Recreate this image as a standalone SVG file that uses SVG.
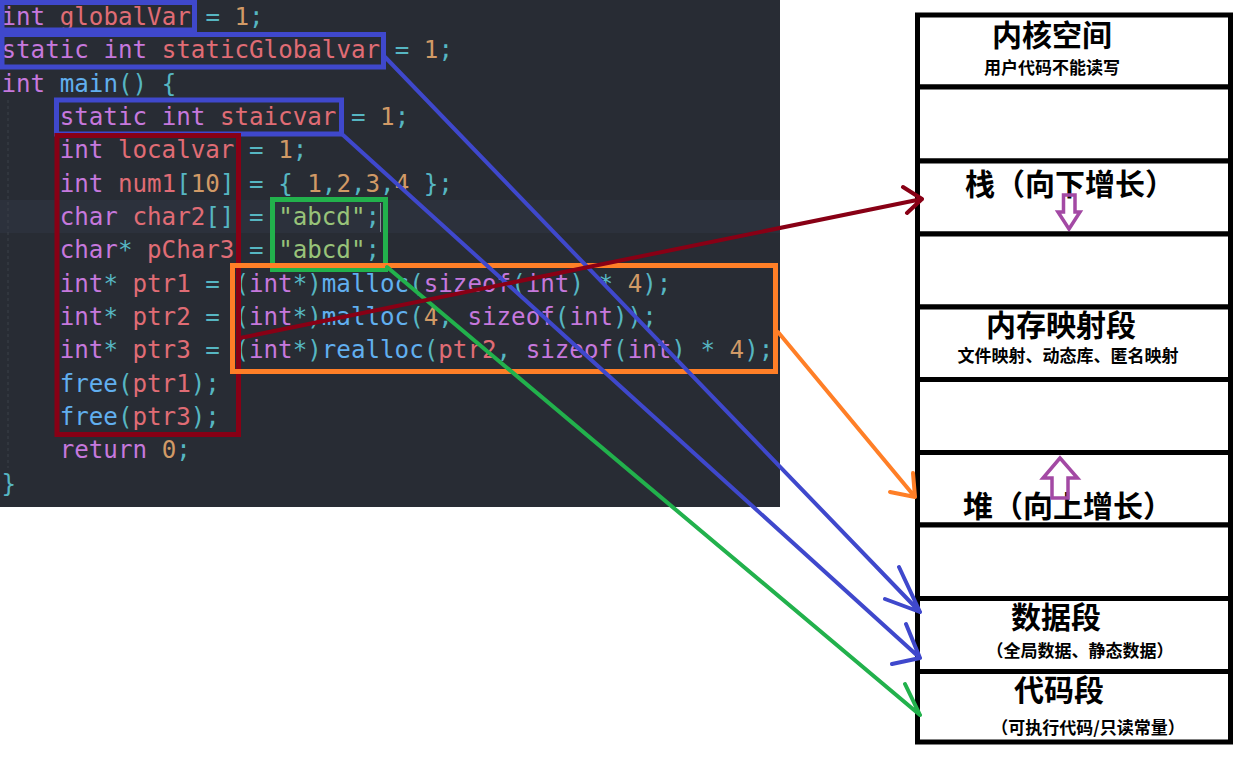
<svg xmlns="http://www.w3.org/2000/svg" width="1258" height="762" viewBox="0 0 1258 762">
<defs>
<style>
.code{font-family:"DejaVu Sans Mono","Liberation Mono",monospace;font-size:24.2px;white-space:pre}
.k{fill:#c678dd}.v{fill:#e06c75}.n{fill:#d19a66}.p{fill:#56b6c2}.f{fill:#61afef}.s{fill:#98c379}
.hl{fill:none;stroke-width:5}
.cell{fill:#fff;stroke:#000;stroke-width:5}
.t{font-family:"Noto Sans CJK SC","Noto Sans CJK TC",sans-serif;font-weight:700;fill:#000;text-anchor:middle}
.big{font-size:30px}.small{font-size:17px}
.grow{fill:none;stroke:#a349a4;stroke-width:3.5}
.con{fill:none;stroke-width:4;stroke-linecap:round;stroke-linejoin:round}
</style>
</defs>
<rect x="0" y="0" width="1258" height="762" fill="#fff"/>

<g id="code-panel">
<rect x="0" y="0" width="780" height="507" fill="#282c34"/>
<rect x="0" y="200" width="780" height="33" fill="#2c313c"/>
<line x1="8" y1="100" x2="8" y2="468" stroke="#3b4048" stroke-width="1" stroke-dasharray="3,3"/>
<line x1="380.5" y1="203" x2="380.5" y2="232" stroke="#8a909c" stroke-width="1"/>
<g class="code">
<text x="1.5" y="25"><tspan class="k">int</tspan> <tspan class="v">globalVar</tspan> <tspan class="p">=</tspan> <tspan class="n">1</tspan><tspan class="p">;</tspan></text>
<text x="1.5" y="58.3"><tspan class="k">static</tspan> <tspan class="k">int</tspan> <tspan class="v">staticGlobalvar</tspan> <tspan class="p">=</tspan> <tspan class="n">1</tspan><tspan class="p">;</tspan></text>
<text x="1.5" y="91.7"><tspan class="k">int</tspan> <tspan class="f">main</tspan><tspan class="p">()</tspan> <tspan class="p">{</tspan></text>
<text x="59.7" y="125"><tspan class="k">static</tspan> <tspan class="k">int</tspan> <tspan class="v">staicvar</tspan> <tspan class="p">=</tspan> <tspan class="n">1</tspan><tspan class="p">;</tspan></text>
<text x="59.7" y="158.3"><tspan class="k">int</tspan> <tspan class="v">localvar</tspan> <tspan class="p">=</tspan> <tspan class="n">1</tspan><tspan class="p">;</tspan></text>
<text x="59.7" y="191.7"><tspan class="k">int</tspan> <tspan class="v">num1</tspan><tspan class="p">[</tspan><tspan class="n">10</tspan><tspan class="p">]</tspan> <tspan class="p">=</tspan> <tspan class="p">{</tspan> <tspan class="n">1</tspan><tspan class="p">,</tspan><tspan class="n">2</tspan><tspan class="p">,</tspan><tspan class="n">3</tspan><tspan class="p">,</tspan><tspan class="n">4</tspan> <tspan class="p">};</tspan></text>
<text x="59.7" y="225"><tspan class="k">char</tspan> <tspan class="v">char2</tspan><tspan class="p">[]</tspan> <tspan class="p">=</tspan> <tspan class="s">"abcd"</tspan><tspan class="p">;</tspan></text>
<text x="59.7" y="258.3"><tspan class="k">char</tspan><tspan class="p">*</tspan> <tspan class="v">pChar3</tspan> <tspan class="p">=</tspan> <tspan class="s">"abcd"</tspan><tspan class="p">;</tspan></text>
<text x="59.7" y="291.7"><tspan class="k">int</tspan><tspan class="p">*</tspan> <tspan class="v">ptr1</tspan> <tspan class="p">=</tspan> <tspan class="p">(</tspan><tspan class="k">int</tspan><tspan class="p">*)</tspan><tspan class="f">malloc</tspan><tspan class="p">(</tspan><tspan class="k">sizeof</tspan><tspan class="p">(</tspan><tspan class="k">int</tspan><tspan class="p">)</tspan> <tspan class="p">*</tspan> <tspan class="n">4</tspan><tspan class="p">);</tspan></text>
<text x="59.7" y="325"><tspan class="k">int</tspan><tspan class="p">*</tspan> <tspan class="v">ptr2</tspan> <tspan class="p">=</tspan> <tspan class="p">(</tspan><tspan class="k">int</tspan><tspan class="p">*)</tspan><tspan class="f">malloc</tspan><tspan class="p">(</tspan><tspan class="n">4</tspan><tspan class="p">,</tspan> <tspan class="k">sizeof</tspan><tspan class="p">(</tspan><tspan class="k">int</tspan><tspan class="p">));</tspan></text>
<text x="59.7" y="358.3"><tspan class="k">int</tspan><tspan class="p">*</tspan> <tspan class="v">ptr3</tspan> <tspan class="p">=</tspan> <tspan class="p">(</tspan><tspan class="k">int</tspan><tspan class="p">*)</tspan><tspan class="f">realloc</tspan><tspan class="p">(</tspan><tspan class="v">ptr2</tspan><tspan class="p">,</tspan> <tspan class="k">sizeof</tspan><tspan class="p">(</tspan><tspan class="k">int</tspan><tspan class="p">)</tspan> <tspan class="p">*</tspan> <tspan class="n">4</tspan><tspan class="p">);</tspan></text>
<text x="59.7" y="391.7"><tspan class="f">free</tspan><tspan class="p">(</tspan><tspan class="v">ptr1</tspan><tspan class="p">);</tspan></text>
<text x="59.7" y="425"><tspan class="f">free</tspan><tspan class="p">(</tspan><tspan class="v">ptr3</tspan><tspan class="p">);</tspan></text>
<text x="59.7" y="458.3"><tspan class="k">return</tspan> <tspan class="n">0</tspan><tspan class="p">;</tspan></text>
<text x="1.5" y="491.7"><tspan class="p">}</tspan></text>
</g>
</g>

<g id="highlights">
<rect class="hl" x="2" y="2.5" width="192.5" height="27.5" stroke="#3f48cc" stroke-width="4"/>
<rect class="hl" x="2" y="34.5" width="381.5" height="32.5" stroke="#3f48cc" stroke-width="4"/>
<rect class="hl" x="56.5" y="100" width="285" height="34" stroke="#3f48cc" stroke-width="4"/>
<rect class="hl" x="57" y="135.5" width="181.5" height="299" stroke="#880015"/>
<rect class="hl" x="272.5" y="199.5" width="113" height="70" stroke="#22b14c"/>
<rect class="hl" x="232.5" y="265.5" width="543" height="106" stroke="#ff7f27"/>
</g>

<g id="cell-kernel">
<rect class="cell" x="917.5" y="15" width="313" height="72"/>
<text class="t big" x="1052" y="46">内核空间</text>
<text class="t small" x="1052" y="74">用户代码不能读写</text>
</g>
<g id="cell-gap1"><rect class="cell" x="917.5" y="87" width="313" height="74"/></g>
<g id="cell-stack">
<rect class="cell" x="917.5" y="161" width="313" height="73"/>
<text class="t big" x="1070" y="195">栈（向下增长）</text>
<polygon class="grow" points="1063.5,195 1075,195 1075,212 1080,212 1069,229 1058,212 1063.5,212"/>
</g>
<g id="cell-gap2"><rect class="cell" x="917.5" y="234" width="313" height="73"/></g>
<g id="cell-mmap">
<rect class="cell" x="917.5" y="307" width="313" height="72.5"/>
<text class="t big" x="1061" y="336">内存映射段</text>
<text class="t small" x="1068" y="362">文件映射、动态库、匿名映射</text>
</g>
<g id="cell-gap3"><rect class="cell" x="917.5" y="379.5" width="313" height="73"/></g>
<g id="cell-heap">
<rect class="cell" x="917.5" y="452.5" width="313" height="72.5"/>
<text class="t big" x="1068" y="517">堆（向上增长）</text>
<polygon class="grow" points="1060,458 1077.5,478 1068,478 1068,498 1052,498 1052,478 1043,478"/>
</g>
<g id="cell-gap4"><rect class="cell" x="917.5" y="525" width="313" height="73.5"/></g>
<g id="cell-data">
<rect class="cell" x="917.5" y="598.5" width="313" height="73"/>
<text class="t big" x="1056" y="628">数据段</text>
<text class="t small" x="1080" y="657">（全局数据、静态数据）</text>
</g>
<g id="cell-code">
<rect class="cell" x="917.5" y="671.5" width="313" height="70.5"/>
<text class="t big" x="1059" y="701">代码段</text>
<text class="t small" x="1088" y="734">（可执行代码/只读常量）</text>
</g>

<g id="connectors">
<path class="con" stroke="#3f48cc" d="M385,57 L920,612 M899,567 L920,612 L885,599"/>
<path class="con" stroke="#3f48cc" d="M343,135 L920,658 M906,624 L920,658 L892,664"/>
<path class="con" stroke="#22b14c" d="M387,267 L500,362 L920,715 M905,684 L920,715"/>
<path class="con" stroke="#ff7f27" d="M778,332 L915,497 M913,473 L915,497 L890,492"/>
<path class="con" stroke="#880015" stroke-width="5" d="M240,338 L922,199 M903,187 L922,199 L907,213"/>
</g>
</svg>
